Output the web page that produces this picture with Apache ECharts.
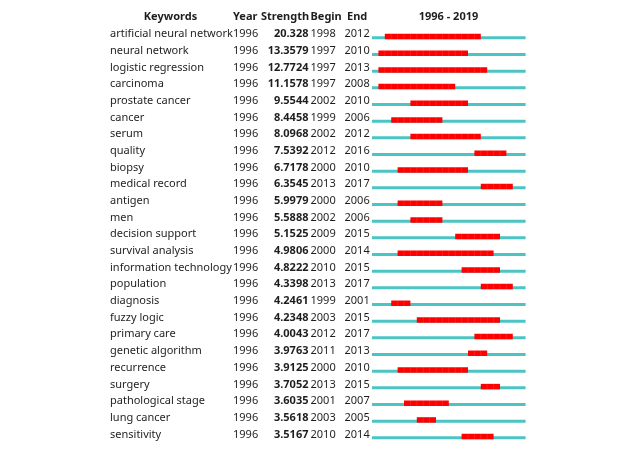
<!DOCTYPE html>
<html lang="en">
<head>
    <meta charset="UTF-8">
    <title>Top keywords with strongest citation bursts</title>
    <style>
        html, body { margin: 0; padding: 0; background: #fff; }
        #main { width: 633px; height: 462px; }
    </style>
</head>
<body>
    <div id="main"></div>
    <script src="https://cdn.jsdelivr.net/npm/echarts@6.0.0/dist/echarts.min.js"></script>
    <script>
        const startYear = 1996;
        const endYear = 2019;

        const keywords = ['artificial neural network', 'neural network', 'logistic regression', 'carcinoma',
            'prostate cancer', 'cancer', 'serum', 'quality', 'biopsy', 'medical record', 'antigen', 'men',
            'decision support', 'survival analysis', 'information technology', 'population', 'diagnosis',
            'fuzzy logic', 'primary care', 'genetic algorithm', 'recurrence', 'surgery', 'pathological stage',
            'lung cancer', 'sensitivity'];
        const firstYears = [1996, 1996, 1996, 1996, 1996, 1996, 1996, 1996, 1996, 1996, 1996, 1996, 1996,
            1996, 1996, 1996, 1996, 1996, 1996, 1996, 1996, 1996, 1996, 1996, 1996];
        const strengths = ['20.328', '13.3579', '12.7724', '11.1578', '9.5544', '8.4458', '8.0968', '7.5392',
            '6.7178', '6.3545', '5.9979', '5.5888', '5.1525', '4.9806', '4.8222', '4.3398', '4.2461', '4.2348',
            '4.0043', '3.9763', '3.9125', '3.7052', '3.6035', '3.5618', '3.5167'];
        const begins = [1998, 1997, 1997, 1997, 2002, 1999, 2002, 2012, 2000, 2013, 2000, 2002, 2009, 2000,
            2010, 2013, 1999, 2003, 2012, 2011, 2000, 2013, 2001, 2003, 2010];
        const ends = [2012, 2010, 2013, 2008, 2010, 2006, 2012, 2016, 2010, 2017, 2006, 2006, 2015, 2014,
            2015, 2017, 2001, 2015, 2017, 2013, 2010, 2015, 2007, 2005, 2014];

        const font = '"Noto Sans", sans-serif';
        const textColor = '#1e1e1e';
        const cyan = '#4cc4c4';
        const red = '#ff0000';

        // x positions (px) of the table columns left of the timeline
        const colKeyword = 110, colYear = 233, colStrength = 308.5, colBegin = 310.5, colEnd = 344.5;
        const headerY = 17;

        const burstData = keywords.map((k, i) => [begins[i], i, ends[i]]);

        function label(x, y, text, align, bold) {
            return {
                type: 'text',
                style: {
                    x: x, y: y, text: text, textAlign: align, textVerticalAlign: 'middle',
                    font: (bold ? 'bold ' : '') + '11px ' + font, fill: textColor
                }
            };
        }

        const myChart = echarts.init(document.getElementById('main'));
        const option = {
            animation: false,
            grid: { left: 372, width: 153.6, top: 26, bottom: 19.3 },
            xAxis: { type: 'value', min: startYear, max: endYear + 1, show: false },
            yAxis: { type: 'category', data: keywords, inverse: true, show: false },
            graphic: [
                label(170.5, headerY, 'Keywords', 'center', true),
                label(233, headerY, 'Year', 'left', true),
                label(261, headerY, 'Strength', 'left', true),
                label(310.5, headerY, 'Begin', 'left', true),
                label(347, headerY, 'End', 'left', true),
                label(448.5, headerY, startYear + ' - ' + endYear, 'center', true)
            ],
            series: [{
                type: 'custom',
                data: burstData,
                encode: { x: [0, 2], y: 1 },
                renderItem: (params, api) => {
                    const row = api.value(1);
                    const b = api.value(0);
                    const e = api.value(2);
                    const p0 = api.coord([startYear, row]);
                    const p1 = api.coord([endYear + 1, row]);
                    const y = p0[1];
                    const i = params.dataIndex;
                    const xb = api.coord([b, row])[0];
                    const xe = api.coord([e + 1, row])[0];
                    const children = [
                        label(colKeyword, y, keywords[i], 'left', false),
                        label(colYear, y, String(firstYears[i]), 'left', false),
                        label(colStrength, y, strengths[i], 'right', true),
                        label(colBegin, y, String(b), 'left', false),
                        label(colEnd, y, String(e), 'left', false),
                        {
                            type: 'rect',
                            shape: { x: p0[0], y: y + 2, width: p1[0] - p0[0], height: 3 },
                            style: { fill: cyan }
                        },
                        {
                            type: 'rect',
                            shape: { x: xb, y: y - 0.5, width: xe - xb, height: 5.5 },
                            style: { fill: red }
                        }
                    ];
                    // faint year separators inside the burst
                    for (let yr = b + 1; yr <= e; yr++) {
                        const a = api.coord([yr, row])[0];
                        children.push({
                            type: 'line',
                            shape: { x1: a, y1: y - 0.5, x2: a, y2: y + 5 },
                            style: { stroke: 'rgba(255,255,255,0.18)', lineWidth: 0.6 }
                        });
                    }
                    return { type: 'group', children: children };
                }
            }]
        };
        myChart.setOption(option);
    </script>
</body>
</html>
